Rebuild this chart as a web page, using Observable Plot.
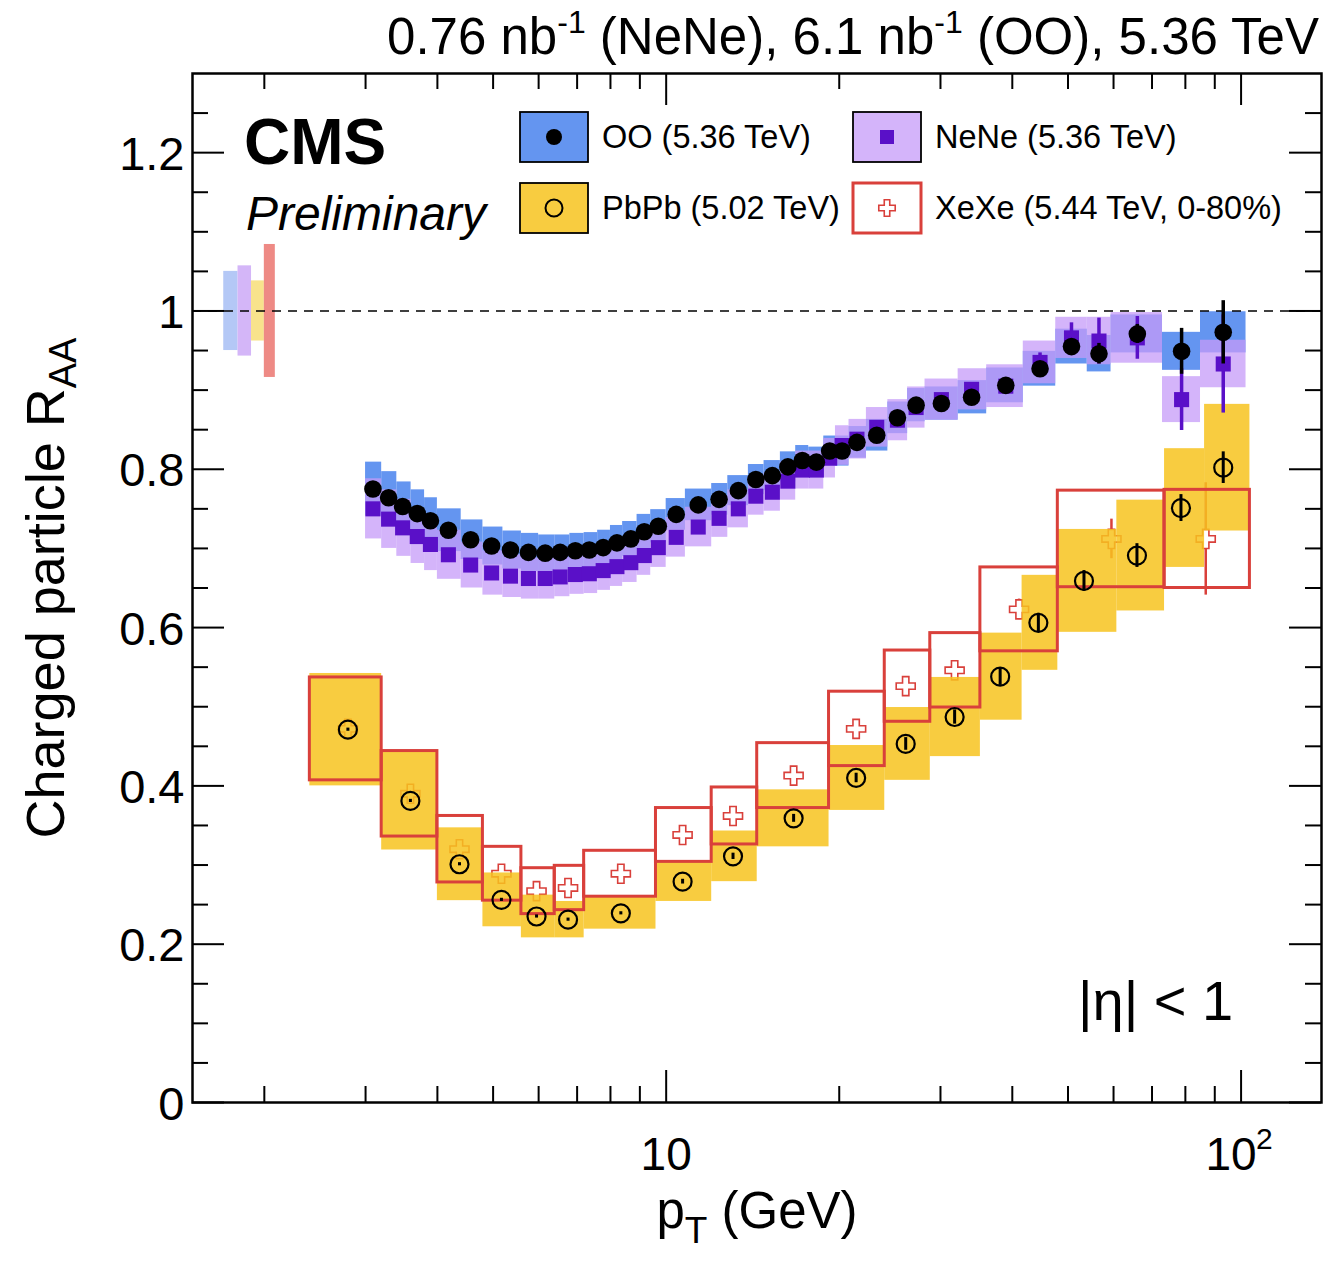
<!DOCTYPE html>
<html><head><meta charset="utf-8">
<script src="https://cdn.jsdelivr.net/npm/d3@7"></script>
<script src="https://cdn.jsdelivr.net/npm/@observablehq/plot@0.6"></script>
<style>body{margin:0;background:#fff} svg{display:block}</style>
</head><body><div id="chart"></div>
<script>
// ---------------- data ----------------
// OO (5.36 TeV)
const ooEdges = [3.0,3.2,3.4,3.6,3.8,4.0,4.4,4.8,5.2,5.6,6.0,6.4,6.8,7.2,7.6,8.0,8.4,8.9,9.4,10.0,10.8,12.0,12.8,13.9,14.8,15.8,16.8,17.7,18.8,19.7,20.8,22.3,24.3,26.3,28.2,32.2,36.1,41.8,47.6,54.0,59.4,73.0,85.0,102.0];
const ooPt = [3.09,3.29,3.48,3.69,3.89,4.18,4.57,4.97,5.36,5.76,6.16,6.54,6.95,7.35,7.77,8.21,8.68,9.16,9.69,10.41,11.37,12.36,13.35,14.32,15.3,16.28,17.25,18.25,19.25,20.23,21.47,23.24,25.25,27.21,30.11,33.98,38.97,44.7,50.7,56.6,66.0,78.8,93.1];
const ooVal = [0.775,0.764,0.753,0.744,0.735,0.723,0.711,0.703,0.698,0.695,0.694,0.695,0.697,0.698,0.701,0.707,0.712,0.721,0.728,0.743,0.755,0.762,0.773,0.787,0.792,0.803,0.811,0.809,0.823,0.823,0.834,0.843,0.865,0.881,0.883,0.891,0.906,0.927,0.955,0.946,0.971,0.949,0.973];
const ooSys = [0.034,0.033,0.031,0.030,0.029,0.027,0.025,0.024,0.024,0.024,0.023,0.022,0.022,0.022,0.022,0.022,0.022,0.022,0.021,0.020,0.020,0.020,0.019,0.019,0.019,0.019,0.019,0.019,0.019,0.019,0.020,0.020,0.020,0.021,0.021,0.021,0.022,0.022,0.022,0.023,0.024,0.024,0.026];
const ooStat = [0.002,0.002,0.002,0.002,0.002,0.002,0.002,0.002,0.002,0.002,0.002,0.002,0.002,0.002,0.002,0.002,0.002,0.002,0.002,0.002,0.003,0.003,0.003,0.003,0.003,0.003,0.003,0.003,0.003,0.003,0.004,0.004,0.005,0.005,0.006,0.006,0.007,0.008,0.008,0.013,0.012,0.029,0.040];
// NeNe (5.36 TeV), same bins as OO
const nnVal = [0.750,0.737,0.726,0.715,0.705,0.692,0.679,0.669,0.665,0.662,0.662,0.664,0.667,0.668,0.672,0.677,0.682,0.691,0.701,0.714,0.727,0.738,0.750,0.766,0.771,0.785,0.799,0.799,0.814,0.830,0.838,0.853,0.862,0.878,0.888,0.901,0.905,0.935,0.966,0.962,0.966,0.888,0.933];
const nnSys = [0.038,0.037,0.036,0.034,0.033,0.031,0.029,0.028,0.027,0.026,0.026,0.025,0.025,0.025,0.025,0.025,0.025,0.025,0.025,0.025,0.025,0.024,0.024,0.024,0.024,0.024,0.024,0.024,0.025,0.025,0.025,0.025,0.026,0.026,0.026,0.026,0.027,0.027,0.026,0.030,0.032,0.029,0.030];
const nnStat = [0.002,0.002,0.002,0.002,0.002,0.002,0.002,0.002,0.002,0.002,0.002,0.002,0.002,0.002,0.002,0.002,0.002,0.002,0.002,0.002,0.003,0.003,0.003,0.003,0.003,0.003,0.003,0.003,0.003,0.003,0.004,0.004,0.005,0.005,0.006,0.007,0.010,0.012,0.019,0.029,0.027,0.039,0.062];
// PbPb (5.02 TeV)
const pbEdges = [2.4,3.2,4.0,4.8,5.6,6.4,7.2,9.6,12.0,14.4,19.2,24.0,28.8,35.2,41.6,48.0,60.8,73.6,86.4,103.6];
const pbPt = [2.795,3.59,4.37,5.17,5.95,6.75,8.34,10.68,13.07,16.66,21.4,26.1,31.75,38.1,44.4,53.3,65.9,78.6,93.1];
const pbVal = [0.471,0.381,0.301,0.256,0.235,0.231,0.239,0.279,0.311,0.359,0.410,0.453,0.487,0.538,0.606,0.659,0.691,0.751,0.802];
const pbSys = [0.071,0.062,0.046,0.034,0.027,0.023,0.020,0.025,0.032,0.036,0.041,0.046,0.050,0.055,0.060,0.065,0.070,0.075,0.080];
const pbStat = [0.002,0.002,0.002,0.002,0.002,0.002,0.002,0.003,0.004,0.005,0.006,0.008,0.009,0.011,0.012,0.013,0.015,0.017,0.020];
// XeXe (5.44 TeV, 0-80%)
const xeEdges = [2.4,3.2,4.0,4.8,5.6,6.4,7.2,9.6,12.0,14.4,19.2,24.0,28.8,35.2,48.0,73.6,103.6];
const xePt = [2.795,3.59,4.37,5.17,5.95,6.75,8.34,10.68,13.07,16.66,21.4,26.1,31.75,41.1,59.5,86.8];
const xeVal = [0.472,0.390,0.320,0.289,0.267,0.271,0.289,0.338,0.362,0.413,0.472,0.526,0.546,0.623,0.712,0.712];
const xeSys = [0.065,0.054,0.042,0.034,0.029,0.028,0.029,0.034,0.036,0.041,0.047,0.045,0.047,0.053,0.061,0.062];
const xeStat = [0.003,0.003,0.003,0.003,0.003,0.003,0.003,0.004,0.005,0.006,0.007,0.008,0.009,0.013,0.025,0.071];
// global normalisation uncertainties (OO, NeNe, PbPb, XeXe)
const normLo = [1.70,1.80,1.90,2.00];
const normHi = [1.80,1.90,2.00,2.09];
const normHalf = [0.050,0.057,0.038,0.084];
const normColor = ["#b4c8f6","#d4b6f8","#f8e38c","#ee8a85"];
// axes
const xMajor = [10,100];
const xMinor = [2,3,4,5,6,7,8,9,20,30,40,50,60,70,80,90];
const xTickBase = ["10","10"];
const xTickExp = ["","2"];
const yMajor = [0,0.2,0.4,0.6,0.8,1.0,1.2];
const yMinor = [0.05,0.1,0.15,0.25,0.3,0.35,0.45,0.5,0.55,0.65,0.7,0.75,0.85,0.9,0.95,1.05,1.1,1.15,1.25];
const yTickLabels = ["0","0.2","0.4","0.6","0.8","1","1.2"];

// ---------------- layout ----------------
const W = 1340, H = 1262, mL = 192, mR = 19, mT = 73, mB = 160;
const xDom = [1.5, 138], yDom = [0, 1.3];
const pxPerDec = (W - mL - mR) / Math.log10(xDom[1] / xDom[0]);
const pxPerY = (H - mT - mB) / (yDom[1] - yDom[0]);
const xFac = px => Math.pow(10, px / pxPerDec);
const majLen = 32, minLen = 16;

const C_OO = "#6495f0", C_NN = "#c69bf8", C_NNm = "#5a10c8", C_PB = "#f7c31f", C_XE = "#d9403b";

const ooRows = ooPt.map((pt, i) => ({pt, lo: ooEdges[i], hi: ooEdges[i+1], v: ooVal[i], sys: ooSys[i], stat: ooStat[i]}));
const nnRows = ooPt.map((pt, i) => ({pt, lo: ooEdges[i], hi: ooEdges[i+1], v: nnVal[i], sys: nnSys[i], stat: nnStat[i]}));
const pbRows = pbPt.map((pt, i) => ({pt, lo: pbEdges[i], hi: pbEdges[i+1], v: pbVal[i], sys: pbSys[i], stat: pbStat[i]}));
const xeRows = xePt.map((pt, i) => ({pt, lo: xeEdges[i], hi: xeEdges[i+1], v: xeVal[i], sys: xeSys[i], stat: xeStat[i]}));
const normRows = normLo.map((lo, i) => ({lo, hi: normHi[i], h: normHalf[i], c: normColor[i]}));
const xLabRows = xMajor.map((x, i) => ({x, base: xTickBase[i], exp: xTickExp[i]}));

const sysRect = (rows, o) => Plot.rect(rows, {x1: "lo", x2: "hi", y1: d => d.v - d.sys, y2: d => d.v + d.sys, ...o});
const statBar = (rows, o) => Plot.ruleX(rows, {x: "pt", y1: d => d.v - d.stat, y2: d => d.v + d.stat, ...o});

const tickMarks = (vals, len) => [
  Plot.ruleX(vals, {x: d => d, y1: yDom[0], y2: yDom[0] + len / pxPerY, stroke: "black", strokeWidth: 2}),
  Plot.ruleX(vals, {x: d => d, y1: yDom[1] - len / pxPerY, y2: yDom[1], stroke: "black", strokeWidth: 2}),
];
const tickMarksY = (vals, len) => [
  Plot.ruleY(vals, {y: d => d, x1: xDom[0], x2: xDom[0] * xFac(len), stroke: "black", strokeWidth: 2}),
  Plot.ruleY(vals, {y: d => d, x1: xDom[1] / xFac(len), x2: xDom[1], stroke: "black", strokeWidth: 2}),
];

const font = "Liberation Sans, Arial, Helvetica, sans-serif";

const chart = Plot.plot({
  width: W, height: H,
  marginLeft: mL, marginRight: mR, marginTop: mT, marginBottom: mB,
  x: {type: "log", domain: xDom, axis: null},
  y: {domain: yDom, axis: null},
  color: {type: "identity"},
  style: {fontFamily: font, background: "white"},
  marks: [
    Plot.rect(normRows, {x1: "lo", x2: "hi", y1: d => 1 - d.h, y2: d => 1 + d.h, fill: "c"}),
    // XeXe markers (under PbPb fill)
    statBar(xeRows, {stroke: C_XE, strokeWidth: 2.5}),
    Plot.dot(xeRows, {x: "pt", y: "v", symbol: "cross", r: 8, fill: "white", stroke: C_XE, strokeWidth: 1.6}),
    // PbPb systematics
    sysRect(pbRows, {fill: C_PB, fillOpacity: 0.85}),
    // XeXe systematics (open boxes)
    sysRect(xeRows, {fill: "none", stroke: C_XE, strokeWidth: 3}),
    // PbPb markers
    statBar(pbRows, {stroke: "black", strokeWidth: 3}),
    Plot.dot(pbRows, {x: "pt", y: "v", r: 9, fill: "none", stroke: "black", strokeWidth: 2.2}),
    // OO & NeNe systematics
    sysRect(ooRows, {fill: C_OO}),
    sysRect(nnRows, {fill: C_NN, fillOpacity: 0.75}),
    statBar(nnRows, {stroke: C_NNm, strokeWidth: 3.5}),
    Plot.dot(nnRows, {x: "pt", y: "v", symbol: "square", r: 8.5, fill: C_NNm}),
    statBar(ooRows, {stroke: "black", strokeWidth: 3.5}),
    Plot.dot(ooRows, {x: "pt", y: "v", r: 8.8, fill: "black"}),
    // reference line
    Plot.ruleY([1], {stroke: "black", strokeWidth: 1.5, strokeDasharray: "9,7"}),
    // ticks
    ...tickMarks(xMajor, majLen), ...tickMarks(xMinor, minLen),
    ...tickMarksY(yMajor, majLen), ...tickMarksY(yMinor, minLen),
    // tick labels
    Plot.text(yMajor, {x: xDom[0], y: d => d, text: (d, i) => yTickLabels[i], textAnchor: "end", dx: -8, dy: 2, fontSize: 47, fill: "black"}),
    Plot.text(xLabRows, {filter: d => d.exp === "", x: "x", y: yDom[0], text: "base", textAnchor: "middle", dy: 53, fontSize: 46, fill: "black"}),
    Plot.text(xLabRows, {filter: d => d.exp !== "", x: "x", y: yDom[0], text: "base", textAnchor: "middle", dx: -10, dy: 53, fontSize: 46, fill: "black"}),
    Plot.text(xLabRows, {filter: d => d.exp !== "", x: "x", y: yDom[0], text: "exp", textAnchor: "start", dx: 15, dy: 37, fontSize: 30, fill: "black"}),
    Plot.frame({stroke: "black", strokeWidth: 2.5})
  ]
});
document.getElementById("chart").appendChild(chart);

// ---------------- annotations & legend ----------------
const svg = d3.select(chart);
const ann = svg.append("g").attr("font-family", font).attr("fill", "black").attr("text-anchor", "start");

// top title
const t = ann.append("text").attr("x", 1319).attr("y", 54).attr("font-size", 51).attr("text-anchor", "end");
t.append("tspan").text("0.76 nb");
t.append("tspan").attr("dy", -21).attr("font-size", 32).text("-1");
t.append("tspan").attr("dy", 21).text(" (NeNe), 6.1 nb");
t.append("tspan").attr("dy", -21).attr("font-size", 32).text("-1");
t.append("tspan").attr("dy", 21).text(" (OO), 5.36 TeV");

// y title
const yt = ann.append("text").attr("transform", "translate(64,588) rotate(-90)").attr("font-size", 54).attr("text-anchor", "middle");
yt.append("tspan").text("Charged particle R");
yt.append("tspan").attr("dy", 12).attr("font-size", 38).text("AA");

// x title
const xt = ann.append("text").attr("x", 757).attr("y", 1228).attr("font-size", 51).attr("text-anchor", "middle");
xt.append("tspan").text("p");
xt.append("tspan").attr("dy", 15).attr("font-size", 37).text("T");
xt.append("tspan").attr("dy", -15).text(" (GeV)");

// CMS Preliminary
ann.append("text").attr("x", 244).attr("y", 164).attr("font-size", 64).attr("font-weight", "bold").text("CMS");
ann.append("text").attr("x", 246).attr("y", 230).attr("font-size", 48).attr("font-style", "italic").text("Preliminary");

// eta label
ann.append("text").attr("x", 1078).attr("y", 1020).attr("font-size", 56).text("|η| < 1");

// legend
const legend = [
  {x: 520, y: 112, fill: C_OO, stroke: "black", label: "OO (5.36 TeV)", sym: "dot"},
  {x: 853, y: 112, fill: "#d4b4fa", stroke: "black", label: "NeNe (5.36 TeV)", sym: "square"},
  {x: 520, y: 183, fill: "#f8cc40", stroke: "black", label: "PbPb (5.02 TeV)", sym: "open"},
  {x: 853, y: 183, fill: "white", stroke: C_XE, label: "XeXe (5.44 TeV, 0-80%)", sym: "cross"},
];
const lg = ann.append("g");
legend.forEach(L => {
  const bw = 68, bh = 50, cx = L.x + bw / 2, cy = L.y + bh / 2;
  lg.append("rect").attr("x", L.x).attr("y", L.y).attr("width", bw).attr("height", bh)
    .attr("fill", L.fill).attr("stroke", L.stroke).attr("stroke-width", L.sym === "cross" ? 3 : 1.8);
  if (L.sym === "dot") lg.append("circle").attr("cx", cx).attr("cy", cy).attr("r", 8).attr("fill", "black");
  if (L.sym === "square") lg.append("rect").attr("x", cx - 7).attr("y", cy - 7).attr("width", 14).attr("height", 14).attr("fill", C_NNm);
  if (L.sym === "open") lg.append("circle").attr("cx", cx).attr("cy", cy).attr("r", 8.5).attr("fill", "none").attr("stroke", "black").attr("stroke-width", 2);
  if (L.sym === "cross") lg.append("path").attr("transform", `translate(${cx},${cy})`)
    .attr("d", d3.symbol(d3.symbolCross, 150)()).attr("fill", "white").attr("stroke", C_XE).attr("stroke-width", 1.6);
  lg.append("text").attr("x", L.x + bw + 14).attr("y", cy + 11).attr("font-size", 32.5).text(L.label);
});
</script>
</body></html>
